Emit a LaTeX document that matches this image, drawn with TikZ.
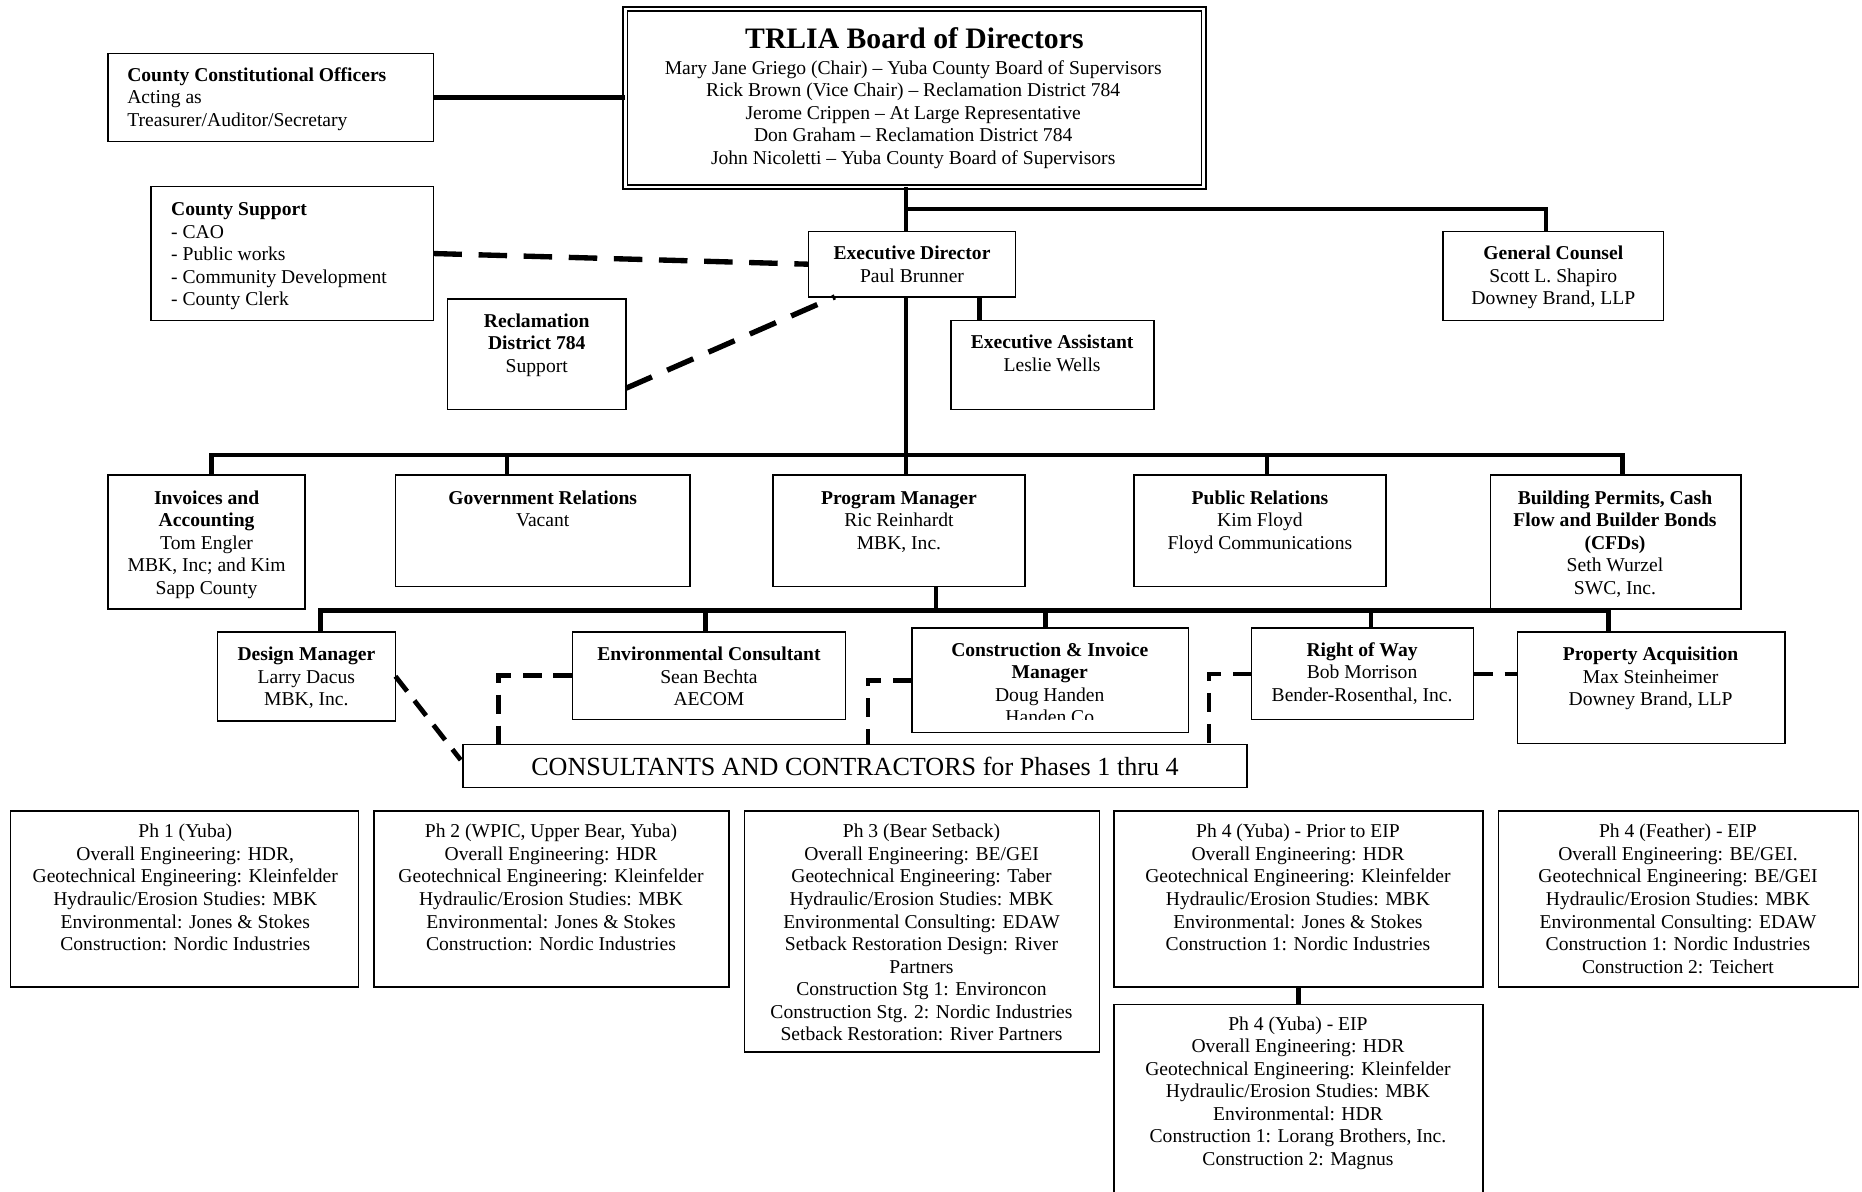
\documentclass[tikz,border=0pt]{standalone}
\usepackage{fontspec}
\setmainfont{Liberation Serif}
\usetikzlibrary{calc}
\tikzset{
 box/.style={draw, line width=1.3pt, inner sep=0pt, outer sep=0pt, fill=white},
 txt/.style={font=\fontsize{16.5}{19}\selectfont, align=center, inner sep=0pt, anchor=north},
 conn/.style={line width=3.8pt},
 dashA/.style={line width=4.5pt, dash pattern=on 24pt off 14pt},
 dashB/.style={line width=4pt, dash pattern=on 16pt off 10pt},
}
\newcommand\mybox[5]{\node[box, anchor=north west, minimum width={(#4-#2)*1pt}, minimum height={(#5-#3)*1pt}] (#1) at (#2,#3) {};}
\begin{document}
\begin{tikzpicture}[x=1pt,y=-1pt]
\useasboundingbox (0,0) rectangle (1568,1003);
\fill[white] (0,0) rectangle (1568,1003);
\clip (0,0) rectangle (1568,1003);

% ---------- boxes ----------
\node[draw, line width=1.4pt, double, double distance=2.2pt, anchor=north west, minimum width=487pt, minimum height=150pt, outer sep=0pt, inner sep=0pt] (board) at (526.5,7.5) {};
\node[font=\fontsize{25}{28}\selectfont\bfseries, anchor=base, inner sep=0pt] (board-title) at (770,41) {TRLIA Board of Directors};
\node[txt] (board-t) at (769,49) {\strut Mary Jane Griego (Chair) -- Yuba County Board of Supervisors\\Rick Brown (Vice Chair) -- Reclamation District 784\\Jerome Crippen -- At Large Representative\\Don Graham -- Reclamation District 784\\John Nicoletti -- Yuba County Board of Supervisors};

\mybox{cco}{91}{45}{365}{119}
\node[txt, align=left, anchor=north west] (cco-t) at (107,55) {\strut\textbf{County Constitutional Officers}\\Acting as\\Treasurer/Auditor/Secretary};

\mybox{cs}{127}{157}{365}{270}
\node[txt, align=left, anchor=north west] (cs-t) at (144,168) {\strut\textbf{County Support}\\- CAO\\- Public works\\- Community Development\\- County Clerk};

\mybox{exec}{681}{195}{855}{250}
\node[txt] (exec-t) at (768,205) {\strut\textbf{Executive Director}\\Paul Brunner};

\mybox{rd}{377}{252}{527}{345}
\node[txt] (rd-t) at (452,262) {\strut\textbf{Reclamation}\\\textbf{District 784}\\Support};

\mybox{ea}{801}{270}{972}{345}
\node[txt] (ea-t) at (886,280) {\strut\textbf{Executive Assistant}\\Leslie Wells};

\mybox{gc}{1215}{195}{1401}{270}
\node[txt] (gc-t) at (1308,205) {\strut\textbf{General Counsel}\\Scott L. Shapiro\\Downey Brand, LLP};

% row 3
\mybox{inv}{91}{400}{257}{513}
\node[txt] (inv-t) at (174,411) {\strut\textbf{Invoices and}\\\textbf{Accounting}\\Tom Engler\\MBK, Inc; and Kim\\Sapp County};
\mybox{gov}{333}{400}{581}{494}
\node[txt] (gov-t) at (457,411) {\strut\textbf{Government Relations}\\Vacant};
\mybox{pm}{651}{400}{863}{494}
\node[txt] (pm-t) at (757,411) {\strut\textbf{Program Manager}\\Ric Reinhardt\\MBK, Inc.};
\mybox{pr}{955}{400}{1167}{494}
\node[txt] (pr-t) at (1061,411) {\strut\textbf{Public Relations}\\Kim Floyd\\Floyd Communications};
\mybox{bp}{1255}{400}{1466}{513}
\node[txt] (bp-t) at (1360,411) {\strut\textbf{Building Permits, Cash}\\\textbf{Flow and Builder Bonds}\\\textbf{(CFDs)}\\Seth Wurzel\\SWC, Inc.};

% row 4
\mybox{dm}{183}{532}{333}{607}
\node[txt] (dm-t) at (258,543) {\strut\textbf{Design Manager}\\Larry Dacus\\MBK, Inc.};
\mybox{env}{482}{532}{712}{606}
\node[txt] (env-t) at (597,543) {\strut\textbf{Environmental Consultant}\\Sean Bechta\\AECOM};
\mybox{con}{768}{529}{1001}{617}
\begin{scope}
\clip (con.north west) rectangle ($(con.south east)+(0,-11)$);
\node[txt] (con-t) at (884,539) {\strut\textbf{Construction \& Invoice}\\\textbf{Manager}\\Doug Handen\\Handen Co};
\end{scope}
\mybox{row}{1054}{529}{1241}{606}
\node[txt] (row-t) at (1147,539) {\strut\textbf{Right of Way}\\Bob Morrison\\Bender-Rosenthal, Inc.};
\mybox{prop}{1278}{532}{1503}{626}
\node[txt] (prop-t) at (1390,543) {\strut\textbf{Property Acquisition}\\Max Steinheimer\\Downey Brand, LLP};

\mybox{cons}{390}{627}{1050}{663}
\node[font=\fontsize{22}{25}\selectfont, inner sep=0pt] (cons-t) at (cons.center) {CONSULTANTS AND CONTRACTORS for Phases 1 thru 4};

% bottom row
\mybox{ph1}{9}{683}{302}{831}
\node[txt] (ph1-t) at (156,692) {\strut Ph 1 (Yuba)\\Overall Engineering: HDR,\\Geotechnical Engineering: Kleinfelder\\Hydraulic/Erosion Studies: MBK\\Environmental: Jones \& Stokes\\Construction: Nordic Industries};
\mybox{ph2}{315}{683}{614}{831}
\node[txt] (ph2-t) at (464,692) {\strut Ph 2 (WPIC, Upper Bear, Yuba)\\Overall Engineering: HDR\\Geotechnical Engineering: Kleinfelder\\Hydraulic/Erosion Studies: MBK\\Environmental: Jones \& Stokes\\Construction: Nordic Industries};
\mybox{ph3}{627}{683}{926}{886}
\node[txt] (ph3-t) at (776,692) {\strut Ph 3 (Bear Setback)\\Overall Engineering: BE/GEI\\Geotechnical Engineering: Taber\\Hydraulic/Erosion Studies: MBK\\Environmental Consulting: EDAW\\Setback Restoration Design: River\\Partners\\Construction Stg 1: Environcon\\Construction Stg. 2: Nordic Industries\\Setback Restoration: River Partners};
\mybox{ph4a}{938}{683}{1249}{831}
\node[txt] (ph4a-t) at (1093,692) {\strut Ph 4 (Yuba) - Prior to EIP\\Overall Engineering: HDR\\Geotechnical Engineering: Kleinfelder\\Hydraulic/Erosion Studies: MBK\\Environmental: Jones \& Stokes\\Construction 1: Nordic Industries};
\mybox{ph4f}{1262}{683}{1565}{831}
\node[txt] (ph4f-t) at (1413,692) {\strut Ph 4 (Feather) - EIP\\Overall Engineering: BE/GEI.\\Geotechnical Engineering: BE/GEI\\Hydraulic/Erosion Studies: MBK\\Environmental Consulting: EDAW\\Construction 1: Nordic Industries\\Construction 2: Teichert};
\mybox{ph4b}{938}{846}{1249}{1012}
\node[txt] (ph4b-t) at (1093,854) {\strut Ph 4 (Yuba) - EIP\\Overall Engineering: HDR\\Geotechnical Engineering: Kleinfelder\\Hydraulic/Erosion Studies: MBK\\Environmental: HDR\\Construction 1: Lorang Brothers, Inc.\\Construction 2: Magnus};

% ---------- connectors ----------
\draw[conn] (cco.east) -- (cco.east -| board.west);
\coordinate (j1) at ($(exec.north)+(-5,0)$);
\draw[conn] (j1 |- board.south) -- (j1);
\draw[conn] (j1 |- 0,176) -| ($(gc.north)+(-6,0)$);
\coordinate (j2) at ($(exec.south)+(-5,0)$);
\draw[conn] (j2) -- (j2 |- pm.north);
\draw[conn] ($(exec.south west)+(144,0)$) -- ($(ea.north west)+(24,0)$);
\draw[conn] ($(inv.north)+(4,0)$) |- ($(bp.north)+(6,-17)$) -- ($(bp.north)+(6,0)$);
\draw[conn] ($(gov.north)+(-30,0)$) -- ++(0,-17);
\draw[conn] ($(pr.north)+(6,0)$) -- ++(0,-17);
\draw[conn] ($(pm.south)+(31,0)$) -- ++(0,20);
\draw[conn] ($(dm.north)+(12,0)$) |- ($(prop.north)+(-36,-18)$) -- ($(prop.north)+(-36,0)$);
\draw[conn] ($(env.north)+(-3,0)$) -- ++(0,-18);
\draw[conn] ($(con.north)+(-4,0)$) -- ++(0,-15);
\draw[conn] ($(row.north)+(7,0)$) -- ++(0,-15);
\draw[conn] (ph4a.south) -- (ph4b.north);

\draw[dashA] (cs.east) -- (exec.west);
\draw[dashA] ($(rd.south east)+(0,-18)$) -- ($(exec.south west)+(22,0)$);

\draw[dashB] (dm.east) -- ($(cons.north west)+(-2,13)$);
\draw[dashB] (env.west) -| ($(cons.north west)+(30,0)$);
\draw[dashB] (con.west) -| ($(cons.north west)+(341,0)$);
\draw[dashB] (row.west) -| ($(cons.north east)+(-32,0)$);
\draw[dashB] (row.east) -- (row.east -| prop.west);
\end{tikzpicture}
\end{document}
